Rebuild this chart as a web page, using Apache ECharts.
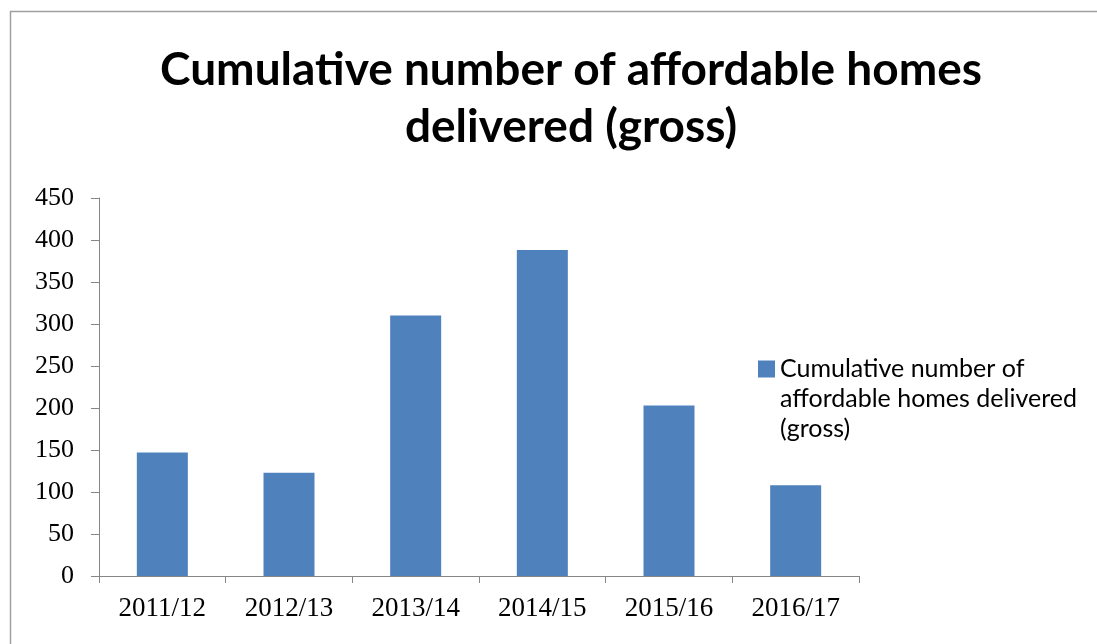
<!DOCTYPE html>
<html>
<head>
<meta charset="utf-8">
<script src="https://cdn.jsdelivr.net/npm/echarts@6/dist/echarts.min.js"></script>
<style>html,body{margin:0;padding:0;background:#fff;}#c{width:1097px;height:644px;}</style>
</head>
<body>
<div id="c"></div>
<script>
var categories = ['2011/12', '2012/13', '2013/14', '2014/15', '2015/16', '2016/17'];
var values = [147, 123, 310, 388, 203, 108];
var seriesName = 'Cumulative number of affordable homes delivered (gross)';
var titleText = 'Cumulative number of affordable homes\ndelivered (gross)';
// two leading blank lines keep the legend square level with the first text line
var legendText = '\n\nCumulative number of\naffordable homes delivered\n(gross)';

var chart = echarts.init(document.getElementById('c'), null, {renderer: 'canvas'});
chart.setOption({
  animation: false,
  backgroundColor: '#fff',
  graphic: [{
    type: 'rect', left: 8, top: 9, silent: true,
    shape: {width: 1200, height: 700},
    style: {fill: 'none', stroke: '#a0a0a0', lineWidth: 1.5}
  }],
  title: {
    text: titleText,
    left: 566, top: 37, textAlign: 'center',
    textStyle: {fontFamily: 'Lato', fontWeight: 'bold', fontSize: 46, lineHeight: 57, color: '#000'}
  },
  legend: {
    data: [seriesName],
    left: 758, top: 294, padding: 0,
    itemWidth: 17, itemHeight: 17, itemGap: 0,
    icon: 'rect',
    formatter: function () { return legendText; },
    textStyle: {fontFamily: 'Lato', fontSize: 25, lineHeight: 30, color: '#000'}
  },
  grid: {left: 99, right: 238, top: 198, bottom: 68},
  xAxis: {
    type: 'category', data: categories,
    axisLine: {lineStyle: {color: '#868686', width: 1}},
    axisTick: {show: true, alignWithLabel: false, length: 7, lineStyle: {color: '#868686'}},
    axisLabel: {fontFamily: 'Liberation Serif', fontSize: 27, color: '#000', margin: 19}
  },
  yAxis: {
    type: 'value', min: 0, max: 450, interval: 50,
    axisLine: {show: true, lineStyle: {color: '#868686', width: 1}},
    axisTick: {show: true, length: 8, lineStyle: {color: '#868686'}},
    splitLine: {show: false},
    axisLabel: {fontFamily: 'Liberation Serif', fontSize: 26, color: '#000', margin: 25}
  },
  series: [{
    name: seriesName, type: 'bar', data: values,
    barWidth: 51,
    itemStyle: {color: '#4F81BD'}
  }]
});
</script>
</body>
</html>
